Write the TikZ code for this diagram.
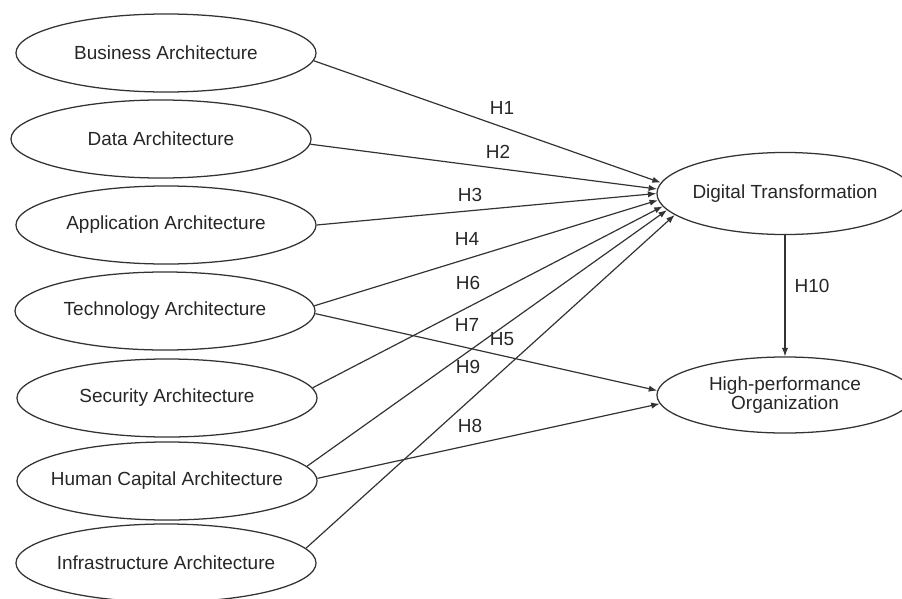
\documentclass[tikz,border=0pt]{standalone}
\usepackage{fontspec}
\setmainfont{Liberation Sans}
\usetikzlibrary{shapes.geometric, arrows.meta}

\definecolor{linegray}{HTML}{333333}
\definecolor{textgray}{HTML}{262626}

\begin{document}
\begin{tikzpicture}[
    x=0.025cm, y=-0.025cm,
    font=\fontsize{13.5}{13.2}\selectfont,
    % constructs on the left and right
    arch/.style={ellipse, draw=linegray, line width=0.9pt, minimum width=7.5cm, minimum height=1.95cm, inner xsep=-1cm, inner ysep=0pt, align=center, text=textgray},
    goal/.style={arch, minimum width=6.4cm, minimum height=2.05cm},
    link/.style={-{Latex[length=6pt, width=4.5pt]}, draw=linegray, line width=0.85pt},
    hlabel/.style={text=textgray, inner sep=1pt}
]
\useasboundingbox (0,0) rectangle (902,599);

% =========================================================
% ARCHITECTURES (left column)
% =========================================================
\node[arch] (bus) at (166,53)  {Business Architecture};
\node[arch] (dat) at (161,139) {Data Architecture};
\node[arch] (app) at (166,225) {Application Architecture};
\node[arch] (tec) at (165,311) {Technology Architecture};
\node[arch] (sec) at (167,398) {Security Architecture};
\node[arch] (hum) at (167,481) {Human Capital Architecture};
\node[arch] (inf) at (166,563) {Infrastructure Architecture};

% =========================================================
% OUTCOMES (right column)
% =========================================================
\node[goal] (dig) at (785,193.5) {Digital Transformation};
\node[goal, minimum height=1.9cm] (hpo) at (785,395) {High-performance\\Organization};

% Paths to digital transformation
\draw[link] (bus.-3) -- (dig.175);
\draw[link] (dat.-2) -- (dig.178);
\draw[link] (app.east) -- (dig.180);
\draw[link] (tec.2) -- (dig.183);
\draw[link] (sec.4) -- (dig.186);
\draw[link] (hum.6) -- (dig.188);
\draw[link] (inf.6) -- (dig.191);

% Paths to high-performance organization
\draw[link] (tec.-1) -- (hpo.178);
\draw[link] (hum.1) -- (hpo.184);
\draw[link] (dig.south) -- (hpo.north);

% Hypothesis labels
\node[hlabel] (h1) at (502,108) {H1};
\node[hlabel] (h2) at (498,152) {H2};
\node[hlabel] (h3) at (470,195) {H3};
\node[hlabel] (h4) at (467,239) {H4};
\node[hlabel] (h6) at (468,283) {H6};
\node[hlabel] (h7) at (467,325) {H7};
\node[hlabel] (h5) at (502,339) {H5};
\node[hlabel] (h9) at (468,367) {H9};
\node[hlabel] (h8) at (470,426) {H8};
\node[hlabel] (h10) at (812,286) {H10};

\end{tikzpicture}
\end{document}
